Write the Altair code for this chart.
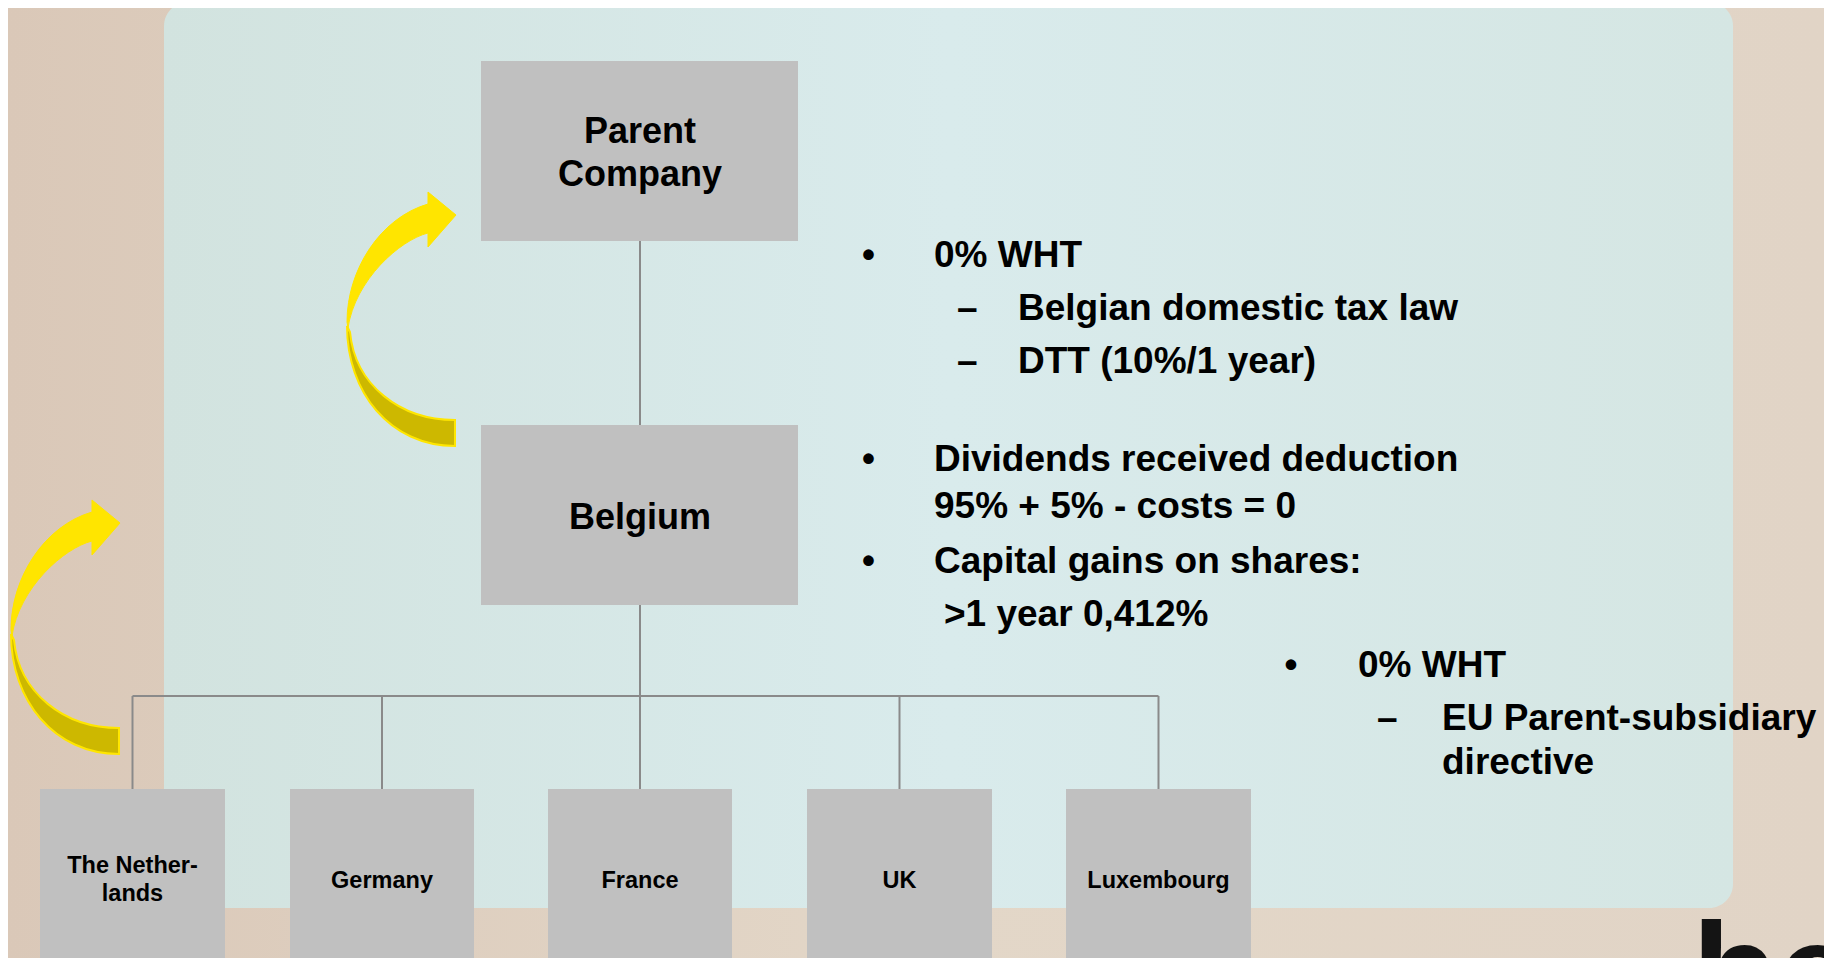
import altair as alt
import pandas as pd

# ---------------- diagram content ----------------
box_names = ["Parent Company", "Belgium", "The Netherlands", "Germany", "France", "UK", "Luxembourg"]
box_left = [481, 481, 40, 290, 548, 807, 1066]
box_right = [798, 798, 225, 474, 732, 992, 1251]
box_top = [61, 425, 789, 789, 789, 789, 789]
box_bottom = [241, 605, 1000, 1000, 1000, 1000, 1000]

box_text = ["Parent", "Company", "Belgium", "The Nether-", "lands", "Germany", "France", "UK", "Luxembourg"]
box_text_x = [640, 640, 640, 132.5, 132.5, 382, 640, 899.5, 1158.5]
box_text_y = [143, 186, 529, 873, 901, 888, 888, 888, 888]
box_text_size = [36, 36, 36, 23.5, 23.5, 23.5, 23.5, 23.5, 23.5]

note_text = ["0% WHT", "Belgian domestic tax law", "DTT (10%/1 year)",
             "Dividends received deduction", "95% + 5% - costs = 0",
             "Capital gains on shares:", ">1 year 0,412%",
             "0% WHT", "EU Parent-subsidiary", "directive"]
note_x = [934, 1018, 1018, 934, 934, 934, 944, 1358, 1442, 1442]
note_y = [267, 320, 373, 471, 518, 573, 626, 677, 730, 774]

bullet_x = [868.5, 868.5, 868.5, 1291]
bullet_y = [267, 471, 573, 677]
dash_x = [957, 957, 1377]
dash_y = [320, 373, 730]

conn_x1 = [640, 640, 132.5, 132.5, 382, 640, 899.5, 1158.5]
conn_y1 = [241, 605, 696, 696, 696, 696, 696, 696]
conn_x2 = [640, 640, 1158.5, 132.5, 382, 640, 899.5, 1158.5]
conn_y2 = [425, 696, 696, 789, 789, 789, 789, 789]

arrow_x = [401.5, 65.5]
arrow_y = [319, 627]

# ---------------- helpers ----------------
XS = alt.Scale(domain=[8, 1824], nice=False, zero=False)
YS = alt.Scale(domain=[8, 958], nice=False, zero=False, reverse=True)


def X(f):
    return alt.X(f, type="quantitative", scale=XS, axis=None)


def Y(f):
    return alt.Y(f, type="quantitative", scale=YS, axis=None)


def norm_path(cmds, cx, cy, r):
    out = []
    for c in cmds:
        if isinstance(c, str):
            out.append(c)
        else:
            out.append(f"{(c[0] - cx) / r:.4f},{(c[1] - cy) / r:.4f}")
    return " ".join(out)


ARC = 130.0
bright_cmds = ["M", (347, 322), "C", (347, 270), (380, 218), (428, 204),
               "L", (428, 192), "L", (456, 215), "L", (428, 247), "L", (428, 233),
               "C", (400, 240), (355, 280), (348, 328), "Z"]
dark_cmds = ["M", (347, 326), "C", (347, 392), (390, 446), (455, 446),
             "L", (455, 420), "C", (400, 420), (355, 385), (350, 332), "Z"]
bright_path = norm_path(bright_cmds, 401.5, 319, ARC)
dark_path = norm_path(dark_cmds, 401.5, 319, ARC)

FONT = "Liberation Sans"

# ---------------- layers ----------------
bg_df = pd.DataFrame({"x": [8], "x2": [1824], "y": [8], "y2": [958]})
bg = alt.Chart(bg_df).mark_rect(
    color=alt.Gradient(gradient="linear", x1=0, x2=1, y1=0, y2=0,
                       stops=[alt.GradientStop(color="#dac8b8", offset=0),
                              alt.GradientStop(color="#e3d7c8", offset=0.5),
                              alt.GradientStop(color="#e1d4c6", offset=1)])
).encode(x=X("x"), x2="x2", y=Y("y"), y2="y2")

panel_df = pd.DataFrame({"x": [164], "x2": [1733], "y": [2], "y2": [908]})
panel = alt.Chart(panel_df).mark_rect(
    cornerRadius=24,
    color=alt.Gradient(gradient="linear", x1=0, x2=1, y1=0, y2=0,
                       stops=[alt.GradientStop(color="#d2e3df", offset=0),
                              alt.GradientStop(color="#d9ebec", offset=0.5),
                              alt.GradientStop(color="#d5e6e3", offset=1)])
).encode(x=X("x"), x2="x2", y=Y("y"), y2="y2")

conn_df = pd.DataFrame({"x": conn_x1, "y": conn_y1, "x2": conn_x2, "y2": conn_y2})
conns = alt.Chart(conn_df).mark_rule(color="#8a8a8a", strokeWidth=2).encode(
    x=X("x"), y=Y("y"), x2="x2", y2="y2")

box_df = pd.DataFrame({"name": box_names, "x": box_left, "x2": box_right,
                       "y": box_top, "y2": box_bottom})
boxes = alt.Chart(box_df).mark_rect(color="#c0c0c0", clip=True).encode(
    x=X("x"), x2="x2", y=Y("y"), y2="y2", tooltip="name:N")

bt_df = pd.DataFrame({"t": box_text, "x": box_text_x, "y": box_text_y, "s": box_text_size})
box_labels = alt.Chart(bt_df).mark_text(
    font=FONT, fontWeight="bold", color="black", align="center", baseline="alphabetic"
).encode(x=X("x"), y=Y("y"), text="t:N",
         size=alt.Size("s:Q", scale=None, legend=None))

note_df = pd.DataFrame({"t": note_text, "x": note_x, "y": note_y})
notes = alt.Chart(note_df).mark_text(
    font=FONT, fontWeight="bold", fontSize=37, color="black", align="left",
    baseline="alphabetic"
).encode(x=X("x"), y=Y("y"), text="t:N")

bul_df = pd.DataFrame({"t": ["•"] * len(bullet_x), "x": bullet_x, "y": bullet_y})
bullets = alt.Chart(bul_df).mark_text(
    font=FONT, fontWeight="bold", fontSize=37, color="black", align="center",
    baseline="alphabetic"
).encode(x=X("x"), y=Y("y"), text="t:N")

dash_df = pd.DataFrame({"t": ["–"] * len(dash_x), "x": dash_x, "y": dash_y})
dashes = alt.Chart(dash_df).mark_text(
    font=FONT, fontWeight="bold", fontSize=37, color="black", align="left",
    baseline="alphabetic"
).encode(x=X("x"), y=Y("y"), text="t:N")

arr_df = pd.DataFrame({"x": arrow_x, "y": arrow_y})
arrow_dark = alt.Chart(arr_df).mark_point(
    shape=dark_path, size=(2 * ARC) ** 2, filled=True, fill="#cdb800",
    stroke="#ffe600", strokeWidth=2, opacity=1
).encode(x=X("x"), y=Y("y"))
arrow_bright = alt.Chart(arr_df).mark_point(
    shape=bright_path, size=(2 * ARC) ** 2, filled=True, fill="#ffe500",
    stroke="#ffe500", strokeWidth=1, opacity=1
).encode(x=X("x"), y=Y("y"))

logo_df = pd.DataFrame({"t": ["be"], "x": [1692], "y": [1020]})
logo = alt.Chart(logo_df).mark_text(
    font=FONT, fontWeight="bold", fontSize=140, color="#141414", align="left",
    baseline="alphabetic", clip=True
).encode(x=X("x"), y=Y("y"), text="t:N")

chart = alt.layer(
    bg, panel, conns, boxes, box_labels, notes, bullets, dashes,
    arrow_dark, arrow_bright, logo
).properties(
    width=1816, height=950, padding=0,
    autosize=alt.AutoSizeParams(type="none")
).configure_view(stroke=None)

chart.save("out.html", embed_options={"renderer": "svg", "actions": False})
